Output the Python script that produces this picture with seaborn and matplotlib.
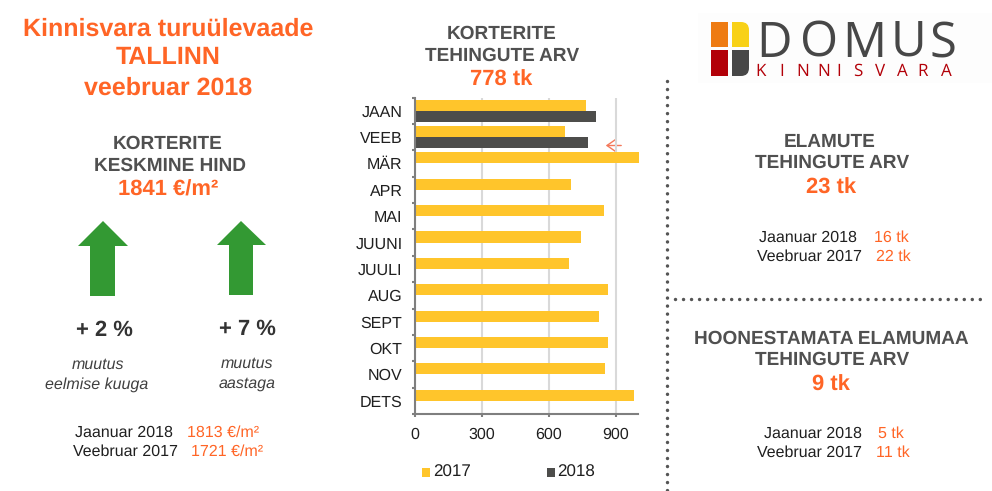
import matplotlib
matplotlib.use("Agg")
import matplotlib.pyplot as plt
from matplotlib.patches import Polygon, Rectangle, FancyBboxPatch
import numpy as np
import pandas as pd
import seaborn as sns

sns.set_theme(style="white")
plt.rcParams['font.family'] = ['Liberation Sans', 'DejaVu Sans']
plt.rcParams['text.hinting'] = 'no_hinting'
plt.rcParams['text.hinting_factor'] = 1

months = ["JAAN", "VEEB", "MÄR", "APR", "MAI", "JUUNI", "JUULI", "AUG", "SEPT", "OKT", "NOV", "DETS"]
values_2017 = [765, 672, 1003, 698, 846, 743, 690, 864, 824, 864, 851, 981]
values_2018 = [810, 778, np.nan, np.nan, np.nan, np.nan, np.nan, np.nan, np.nan, np.nan, np.nan, np.nan]
x_ticks = [0, 300, 600, 900]

ORANGE = "#FF6526"
DARK = "#1F1F1F"
GREY = "#505050"
PCT = "#333333"
YEL = "#FFC52B"
CHAR = "#4D4D4B"
GREEN = "#339933"
LOGO = "#474747"
RED = "#B20008"

W, H = 992, 491
fig = plt.figure(figsize=(W / 100, H / 100), dpi=100, facecolor="white")

bg = fig.add_axes([0, 0, 1, 1], zorder=0)
bg.set_xlim(0, W)
bg.set_ylim(H, 0)
bg.axis("off")

def T(x, y, s, size=11.8, color=DARK, weight="normal", style="normal", ha="center", **kw):
    bg.text(x, y + 1, s, fontsize=size, color=color, fontweight=weight, fontstyle=style,
            ha=ha, va="center", **kw)

HEAD = 13.6
NUM = 15.5

# Left column
T(168, 28, "Kinnisvara turuülevaade", 17.8, ORANGE, "bold")
T(168, 57, "TALLINN", 17.8, ORANGE, "bold")
T(168, 87, "veebruar 2018", 17.8, ORANGE, "bold")
T(168, 143, "KORTERITE", HEAD, GREY, "bold")
T(170, 165, "KESKMINE HIND", HEAD, GREY, "bold")
T(168, 189, "1841 €/m²", 15.6, ORANGE, "bold")

for pts in ([(78, 246), (103, 221), (128, 246), (115, 246), (115, 296), (90, 296), (90, 246)],
            [(217, 245), (241, 221), (266, 245), (253, 245), (253, 295), (229, 295), (229, 245)]):
    bg.add_patch(Polygon(pts, closed=True, fc=GREEN, ec="none"))

T(104, 329, "+ 2 %", 15.5, PCT, "bold")
T(247, 328, "+ 7 %", 15.5, PCT, "bold")
T(98, 364, "muutus", 11.8, "#404040", style="italic")
T(97, 384, "eelmise kuuga", 11.8, "#404040", style="italic")
T(247, 363, "muutus", 11.8, "#404040", style="italic")
T(247, 383, "aastaga", 11.8, "#404040", style="italic")
T(124, 432, "Jaanuar 2018", color=DARK)
T(223, 432, "1813 €/m²", color=ORANGE)
T(125, 451, "Veebruar 2017", color=DARK)
T(227, 451, "1721 €/m²", color=ORANGE)

# Middle heading
T(502, 33, "KORTERITE", HEAD, GREY, "bold")
T(502, 55, "TEHINGUTE ARV", HEAD, GREY, "bold")
T(501, 79, "778 tk", NUM, ORANGE, "bold")

# Right column
T(830, 141, "ELAMUTE", HEAD, GREY, "bold")
T(832, 162, "TEHINGUTE ARV", HEAD, GREY, "bold")
T(831, 187, "23 tk", NUM, ORANGE, "bold")
T(808, 237, "Jaanuar 2018")
T(891, 237, "16 tk", color=ORANGE)
T(809, 256, "Veebruar 2017")
T(893, 256, "22 tk", color=ORANGE)
T(831, 338, "HOONESTAMATA ELAMUMAA", HEAD, GREY, "bold")
T(832, 359, "TEHINGUTE ARV", HEAD, GREY, "bold")
T(831, 384, "9 tk", NUM, ORANGE, "bold")
T(813, 433, "Jaanuar 2018")
T(891, 433, "5 tk", color=ORANGE)
T(809, 452, "Veebruar 2017")
T(893, 452, "11 tk", color=ORANGE)

# Dotted separators
DOT = dict(color="#555555", lw=2.5, ls=(0, (0.01, 2.3)), dash_capstyle="round")
bg.plot([666.5, 666.5], [81, 491], **DOT)
bg.plot([675, 982], [298.5, 298.5], **DOT)

# Logo
bg.add_patch(Rectangle((698, 13), 294, 70, fc="#FDFDFD", ec="none", zorder=0))
bg.add_patch(Rectangle((711, 22), 17, 25, fc="#EE7B12", ec="none"))
bg.add_patch(FancyBboxPatch((732, 22), 17, 25, boxstyle="round,pad=0,rounding_size=8", fc="#F8D117", ec="none"))
bg.add_patch(Rectangle((732, 22), 8, 25, fc="#F8D117", ec="none"))
bg.add_patch(Rectangle((732, 35), 17, 12, fc="#F8D117", ec="none"))
bg.add_patch(Rectangle((711, 50), 17, 26, fc=RED, ec="none"))
bg.add_patch(FancyBboxPatch((732, 50), 17, 26, boxstyle="round,pad=0,rounding_size=8", fc=LOGO, ec="none"))
bg.add_patch(Rectangle((732, 50), 8, 26, fc=LOGO, ec="none"))
bg.add_patch(Rectangle((732, 50), 17, 12, fc=LOGO, ec="none"))
OS = ["Open Sans", "DejaVu Sans"]
for x_, ch in zip([774, 818, 864, 908, 943], "DOMUS"):
    bg.text(x_, 57, ch, fontsize=35, color=LOGO, ha="center", va="baseline", family=OS)
for x_, ch in zip([761, 782, 803, 824, 839, 858, 880, 902, 923, 946], "KINNISVARA"):
    bg.text(x_, 76, ch, fontsize=12, color=RED, ha="center", va="baseline", family=OS)

# Chart
ax = fig.add_axes([415 / W, 1 - 414 / H, 223 / W, 316.5 / H], zorder=1)
ax.patch.set_alpha(0)
df = pd.DataFrame({
    "month": months * 2,
    "value": values_2017 + values_2018,
    "year": ["2017"] * 12 + ["2018"] * 12,
})
sns.barplot(data=df, y="month", x="value", hue="year", order=months, hue_order=["2017", "2018"],
            palette={"2017": YEL, "2018": CHAR}, width=0.84, saturation=1, legend=False,
            linewidth=0, ax=ax)
ax.set_xlim(0, 1000)
ax.set_ylim(11.5, -0.5)
ax.set_xlabel("")
ax.set_ylabel("")
for b in ax.patches:
    b.set_clip_on(False)
ax.set_xticks(x_ticks)
ax.xaxis.grid(True, color="#D9D9D9", lw=1.5)
ax.yaxis.grid(False)
ax.set_axisbelow(True)
ax.tick_params(axis="x", length=2.5, width=1.5, color="#7F7F7F", labelsize=11.8, labelcolor=DARK, pad=7, bottom=True)
ax.set_yticks(np.arange(-0.5, 12, 1), minor=True)
ax.tick_params(axis="y", which="minor", length=2.5, width=1.5, color="#7F7F7F", left=True)
ax.tick_params(axis="y", which="major", length=0, labelsize=11.3, labelcolor=DARK, pad=9)
for s in ("top", "right"):
    ax.spines[s].set_visible(False)
for s in ("left", "bottom"):
    ax.spines[s].set_color("#7F7F7F")
    ax.spines[s].set_linewidth(1.5)
    ax.spines[s].set_zorder(6)

# Arrow to the current month
bg.annotate("", xy=(603, 145.5), xytext=(624, 145.5), zorder=5,
            arrowprops=dict(arrowstyle="->,head_length=0.5,head_width=0.35", color="#F4795B", lw=1))

# Legend
bg.add_patch(Rectangle((422, 468), 8, 9, fc=YEL, ec="none"))
T(433, 471, "2017", 12.3, DARK, ha="left")
bg.add_patch(Rectangle((547, 468), 8, 9, fc=CHAR, ec="none"))
T(557, 471, "2018", 12.3, DARK, ha="left")

fig.savefig("out.png", dpi=100, facecolor="white")
